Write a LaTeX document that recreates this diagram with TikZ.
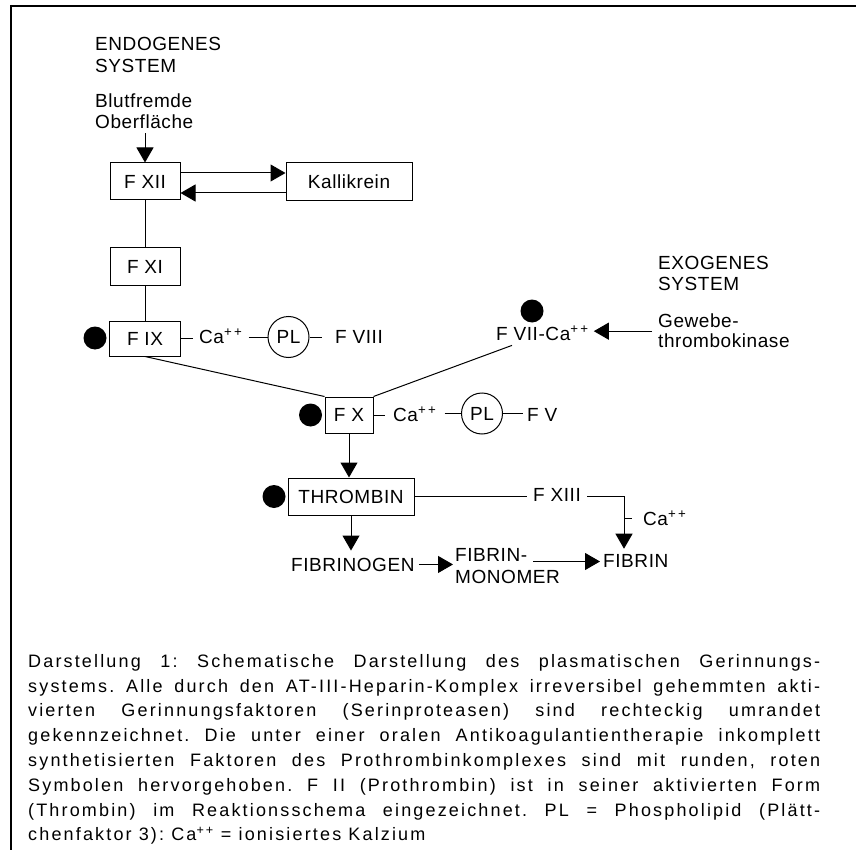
\documentclass[tikz,border=0pt]{standalone}
\usepackage{fontspec}
\setmainfont{Liberation Sans}
\newfontfamily\diafont[LetterSpace=3]{Liberation Sans}
\newfontfamily\capfont[LetterSpace=12]{Liberation Sans}
\usetikzlibrary{arrows.meta,calc}
\newcommand{\plpl}{\textsuperscript{+\,+}}
\tikzset{
  lbl/.style={font=\diafont\fontsize{19}{21}\selectfont, inner sep=0pt},
  box/.style={draw, line width=1pt, inner sep=0pt, font=\diafont\fontsize{19}{21}\selectfont},
  arr/.style={-{Triangle[length=15pt,width=17pt]}, line width=1pt},
  ln/.style={line width=1pt},
  dot/.style={circle, fill=black, minimum size=23pt, inner sep=0pt},
  plc/.style={circle, draw, line width=1pt, minimum size=41pt, inner sep=0pt, font=\diafont\fontsize{19}{21}\selectfont},
  capstyle/.style={font=\capfont\fontsize{18}{24.8}\selectfont, inner sep=0pt, text width=792pt, align=justify}
}
\begin{document}
\begin{tikzpicture}[x=1pt,y=-1pt]
\useasboundingbox (0,0) rectangle (856,850);
% frame
\draw[line width=2pt] (10,6) -- (856,6);
\draw[line width=1.5pt] (11,5) -- (11,850);

% endogenous system
\node[lbl, anchor=north west, align=left, font=\diafont\fontsize{19}{22}\selectfont] (endo) at (95,37) {ENDOGENES\\SYSTEM};
\node[lbl, anchor=north west, align=left, font=\diafont\fontsize{19}{21}\selectfont] (blut) at (95,94) {Blutfremde\\Oberfläche};

\node[box, minimum width=70pt, minimum height=37pt] (fxii) at (145,181.5) {F XII};
\node[box, minimum width=126pt, minimum height=38pt] (kal) at (349,182) {Kallikrein};
\node[box, minimum width=70pt, minimum height=37pt] (fxi) at (145,266.5) {F XI};
\node[box, minimum width=71pt, minimum height=35pt] (fix) at (145,338.5) {F IX};

\draw[arr] ([yshift=-4pt]blut.south -| fxii.north) -- (fxii.north);
\draw[arr] ([yshift=8.5pt]fxii.east) -- ([yshift=8.5pt]fxii.east -| kal.west);
\draw[arr] ([yshift=-11pt]kal.west) -- ([yshift=-11pt]kal.west -| fxii.east);
\draw[ln] (fxii) -- (fxi);
\draw[ln] (fxi) -- (fix);

% F IX row
\node[dot] (d9) at (95,338) {};
\node[lbl, anchor=base west, inner xsep=6pt] (ca1) at (193,343) {Ca\plpl};
\node[plc] (pl1) at (288.5,337) {PL};
\node[lbl, anchor=base west, inner xsep=13pt] (f8) at (322,343) {F VIII};
\draw[ln] (fix.east) -- (fix.east -| ca1.west);
\draw[ln] (ca1.east |- pl1.west) -- (pl1.west);
\draw[ln] (pl1.east) -- (pl1.east -| f8.west);

% F X row
\node[box, minimum width=48pt, minimum height=36pt] (fx) at (349,415) {F X};
\node[dot] (d10) at (310.5,415) {};
\node[lbl, anchor=base west, inner xsep=8pt] (ca2) at (385,421) {Ca\plpl};
\node[plc] (pl2) at (482,413.5) {PL};
\node[lbl, anchor=base west, inner xsep=4pt] (f5) at (523,421) {F V};
\draw[ln] (fx.east) -- (fx.east -| ca2.west);
\draw[ln] (ca2.east |- pl2.west) -- (pl2.west);
\draw[ln] (pl2.east) -- (pl2.east -| f5.west);
\draw[ln] (fix.south) -- (fx.north west);

% exogenous system
\node[lbl, anchor=north west, align=left, font=\diafont\fontsize{19}{21}\selectfont] (exo) at (658,256) {EXOGENES\\SYSTEM};
\node[lbl, anchor=north west, align=left, inner xsep=6pt, font=\diafont\fontsize{19}{20}\selectfont] (gew) at (652,314) {Gewebe-\\thrombokinase};
\node[lbl, anchor=base west, inner xsep=5pt, inner ysep=5pt] (fvii) at (491,340) {F VII-Ca\plpl};
\node[dot] (d7) at (532,311) {};
\draw[arr] (gew.west) -- (gew.west -| fvii.east);
\draw[ln] (fx.north east) -- ([xshift=21pt]fvii.south west);

% thrombin and fibrin
\node[box, minimum width=126pt, minimum height=37pt] (thr) at (351,496.5) {THROMBIN};
\node[dot] (dth) at (274,496.5) {};
\draw[arr] (fx.south) -- (fx.south |- thr.north);

\node[lbl, anchor=base west, inner xsep=4pt, inner ysep=7pt] (fgen) at (287,571) {FIBRINOGEN};
\node[lbl, anchor=north west, align=left, inner xsep=2pt, font=\diafont\fontsize{19}{22}\selectfont] (fmono) at (453,548) {FIBRIN-\\MONOMER};
\node[lbl, anchor=base west, inner xsep=3pt, inner ysep=5pt] (fib) at (600,567) {FIBRIN};
\node[lbl, anchor=base west, inner xsep=6pt] (fxiii) at (527,501) {F XIII};
\node[lbl, anchor=base west, inner xsep=11pt] (ca3) at (632,525) {Ca\plpl};
\coordinate (mstart) at (533,561.5);
\coordinate (turn) at (624,496.5);

\draw[arr] (thr.south) -- (thr.south |- fgen.north);
\draw[arr] (fgen.east) -- (fgen.east -| fmono.west);
\draw[arr] (mstart) -- (mstart -| fib.west);
\draw[ln] (thr.east) -- (thr.east -| fxiii.west);
\draw[arr] (fxiii.east |- turn) -- (turn) -- (turn |- fib.north);
\draw[ln] (turn |- ca3.west) -- (ca3.west);

% caption
\node[capstyle, anchor=north west] (cap) at (28,654) {\frenchspacing\hyphenpenalty=10000 \exhyphenpenalty=10000 \tolerance=10000
Darstellung 1: Schematische Darstellung des plasmatischen Gerinnungs-\linebreak
systems. Alle durch den AT-III-Heparin-Komplex irreversibel gehemmten akti-\linebreak
vierten Gerinnungsfaktoren (Serinproteasen) sind rechteckig umrandet\linebreak
gekennzeichnet. Die unter einer oralen Antikoagulantientherapie inkomplett\linebreak
synthetisierten Faktoren des Prothrombinkomplexes sind mit runden, roten\linebreak
Symbolen hervorgehoben. F II (Prothrombin) ist in seiner aktivierten Form\linebreak
(Thrombin) im Reaktionsschema eingezeichnet. PL = Phospholipid (Plätt-\linebreak
chenfaktor 3): Ca\plpl{} = ionisiertes Kalzium};
\end{tikzpicture}
\end{document}
